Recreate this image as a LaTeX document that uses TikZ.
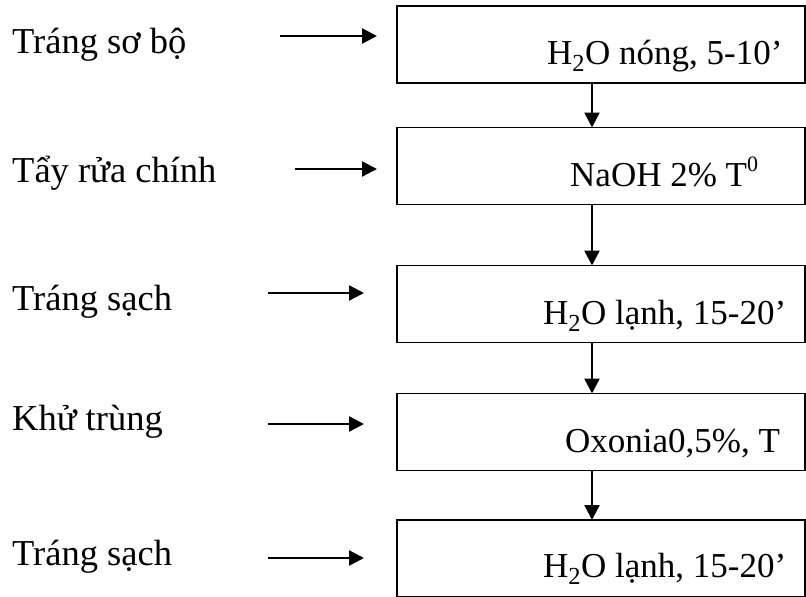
\documentclass[tikz,border=0pt]{standalone}
\usepackage{fontspec}
\setmainfont{Liberation Serif}
\usetikzlibrary{arrows.meta}
\begin{document}
\begin{tikzpicture}[x=1pt,y=-1pt,
  box/.style={draw,line width=1.6pt,minimum width=408pt,minimum height=77pt,inner sep=0pt,outer sep=0pt},
  txt/.style={anchor=base west,inner sep=0pt,font=\fontsize{35}{42}\selectfont},
  lab/.style={txt,font=\fontsize{36.5}{44}\selectfont},
  arr/.style={line width=2.4pt,-{Triangle[length=15pt,width=15pt]}}]
\useasboundingbox (0,0) rectangle (806,597);
% boxes
\node[box] (b1) at (601,44.5) {};
\node[box] (b2) at (601,166) {};
\node[box] (b3) at (601,304) {};
\node[box] (b4) at (601,432) {};
\node[box] (b5) at (601,558.5) {};
% box texts
\node[txt] (t1) at (547,64) {H\textsubscript{2}O nóng, 5-10’};
\node[txt] (t2) at (570,186) {NaOH 2\% T\raisebox{0.42em}{\fontsize{22}{22}\selectfont 0}};
\node[txt] (t3) at (543,324) {H\textsubscript{2}O lạnh, 15-20’};
\node[txt] (t4) at (565,452) {Oxonia0,5\%, T};
\node[txt] (t5) at (543,577) {H\textsubscript{2}O lạnh, 15-20’};
% left labels
\node[lab] (l1) at (12,53) {Tráng sơ bộ};
\node[lab] (l2) at (12,182) {Tẩy rửa chính};
\node[lab] (l3) at (12,310) {Tráng sạch};
\node[lab] (l4) at (12,430) {Khử trùng};
\node[lab] (l5) at (12,565) {Tráng sạch};
% horizontal arrows
\coordinate (h1s) at (280,36);  \coordinate (h1e) at (377,36);
\coordinate (h2s) at (295,169); \coordinate (h2e) at (377,169);
\coordinate (h3s) at (268,293); \coordinate (h3e) at (364,293);
\coordinate (h4s) at (268,424); \coordinate (h4e) at (364,424);
\coordinate (h5s) at (268,558); \coordinate (h5e) at (364,558);
\foreach \i in {1,...,5}{\draw[arr] (h\i s) -- (h\i e);}
% vertical arrows
\draw[arr] (592,0 |- b1.south) -- (592,0 |- b2.north);
\draw[arr] (592,0 |- b2.south) -- (592,0 |- b3.north);
\draw[arr] (592,0 |- b3.south) -- (592,0 |- b4.north);
\draw[arr] (592,0 |- b4.south) -- (592,0 |- b5.north);
\end{tikzpicture}
\end{document}
